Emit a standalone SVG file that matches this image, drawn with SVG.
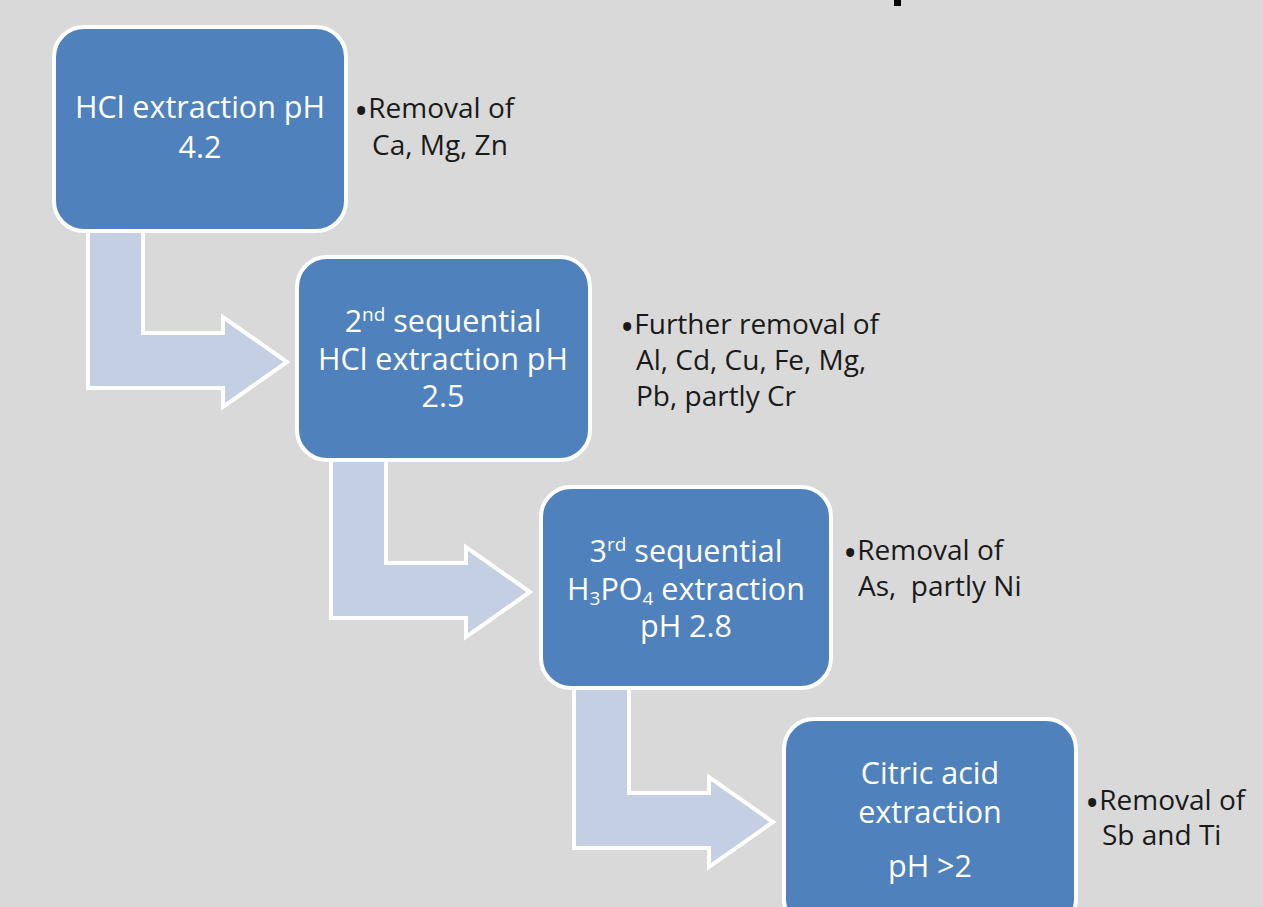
<svg xmlns="http://www.w3.org/2000/svg" width="1263" height="907" viewBox="0 0 1263 907">
<style>
.box{fill:#4F81BD;stroke:#FFFFFF;stroke-width:4}
.arr{fill:#C5CFE3;stroke:#FFFFFF;stroke-width:4;stroke-linejoin:miter}
.bt{font-family:"Open Sans","Liberation Sans",sans-serif;font-size:30.5px;fill:#FFFFFF;text-anchor:middle}
.st{font-family:"Open Sans","Liberation Sans",sans-serif;font-size:28px;fill:#1A1A1A}
.bu{font-size:38px}
.sm{font-size:19px}
</style>
<rect x="0" y="0" width="1263" height="907" fill="#D9D9D9"/>
<rect x="894" y="0" width="7" height="6" fill="#000000"/>
<g id="connectors">
<path class="arr" d="M88,231 L88,388 L223,388 L223,407 L287,362 L223,317 L223,333 L143,333 L143,231"/>
<path class="arr" d="M331,461 L331,618 L466,618 L466,637 L530,592 L466,547 L466,563 L386,563 L386,461"/>
<path class="arr" d="M574,689 L574,848 L709,848 L709,867 L773,822 L709,777 L709,793 L629,793 L629,689"/>
</g>
<g id="node1">
<rect class="box" x="54" y="27" width="292" height="204" rx="30"/>
<text class="bt" x="200" y="118">HCl extraction pH</text>
<text class="bt" x="200" y="158">4.2</text>
</g>
<g id="note1">
<text class="st" x="354" y="118"><tspan class="bu" dy="7">•</tspan><tspan dy="-7">Removal of</tspan></text>
<text class="st" x="372" y="155">Ca, Mg, Zn</text>
</g>
<g id="node2">
<rect class="box" x="297" y="257" width="293" height="203" rx="30"/>
<text class="bt" x="443" y="332">2<tspan class="sm" dy="-11">nd</tspan><tspan dy="11"> sequential</tspan></text>
<text class="bt" x="443" y="370">HCl extraction pH</text>
<text class="bt" x="443" y="407">2.5</text>
</g>
<g id="note2">
<text class="st" x="620" y="334"><tspan class="bu" dy="7">•</tspan><tspan dy="-7">Further removal of</tspan></text>
<text class="st" x="636" y="370">Al, Cd, Cu, Fe, Mg,</text>
<text class="st" x="636" y="406">Pb, partly Cr</text>
</g>
<g id="node3">
<rect class="box" x="541" y="487" width="290" height="201" rx="30"/>
<text class="bt" x="686" y="562">3<tspan class="sm" dy="-11">rd</tspan><tspan dy="11"> sequential</tspan></text>
<text class="bt" x="686" y="600">H<tspan class="sm" dy="5">3</tspan><tspan dy="-5">PO</tspan><tspan class="sm" dy="5">4</tspan><tspan dy="-5"> extraction</tspan></text>
<text class="bt" x="686" y="637">pH 2.8</text>
</g>
<g id="note3">
<text class="st" x="843" y="560"><tspan class="bu" dy="7">•</tspan><tspan dy="-7">Removal of</tspan></text>
<text class="st" x="858" y="596">As,&#160; partly Ni</text>
</g>
<g id="node4">
<rect class="box" x="784" y="719" width="292" height="210" rx="30"/>
<text class="bt" x="930" y="784">Citric acid</text>
<text class="bt" x="930" y="823">extraction</text>
<text class="bt" x="930" y="877">pH &gt;2</text>
</g>
<g id="note4">
<text class="st" x="1085" y="810"><tspan class="bu" dy="7">•</tspan><tspan dy="-7">Removal of</tspan></text>
<text class="st" x="1102" y="845">Sb and Ti</text>
</g>
</svg>
